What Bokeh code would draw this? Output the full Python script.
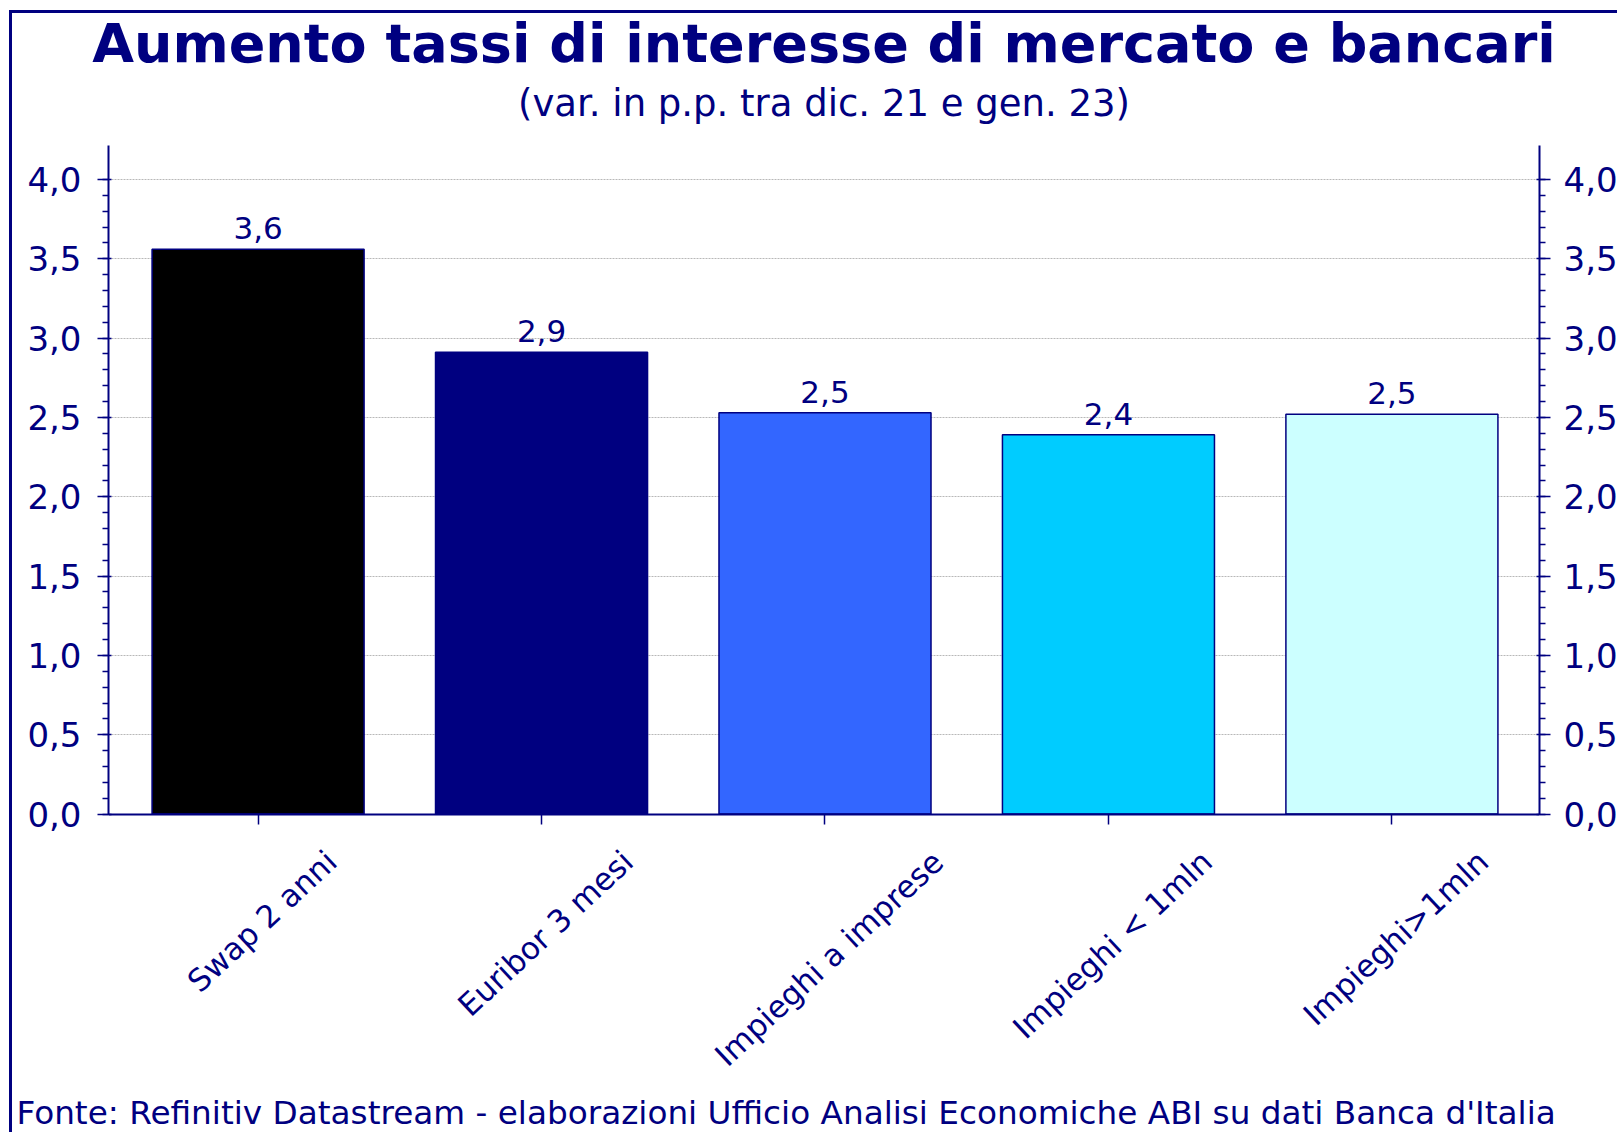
import math
from bokeh.plotting import figure
from bokeh.models import (ColumnDataSource, FixedTicker, LinearAxis, Range1d, Title,
                          CustomJSTickFormatter, Grid)
from bokeh.core.properties import value
from bokeh.embed import file_html
from bokeh.resources import INLINE

# ---------------- data ----------------
categories = ["Swap 2 anni", "Euribor 3 mesi", "Impieghi a imprese", "Impieghi < 1mln", "Impieghi>1mln"]
values = [3.56, 2.91, 2.53, 2.39, 2.52]
bar_colors = ["#000000", "#000080", "#3366FF", "#00CCFF", "#CCFFFF"]
y_ticks = [0.0, 0.5, 1.0, 1.5, 2.0, 2.5, 3.0, 3.5, 4.0]
y_minor_ticks = [k / 10 for k in range(0, 41)]
title_text = "Aumento tassi di interesse di mercato e bancari"
subtitle_text = "(var. in p.p. tra dic. 21 e gen. 23)"
source_text = "Fonte: Refinitiv Datastream - elaborazioni Ufficio Analisi Economiche ABI su dati Banca d'Italia"

# ---------------- style / layout ----------------
NAVY = "#000080"
FONT = "DejaVu Sans"
CX0, CY0 = 12, 13            # page position of the canvas (margin + 3px border)
W, H = 1608, 1122
F_LEFT, F_RIGHT, F_TOP, F_BOTTOM = 108, 1543, 145, 1095   # frame, page px
ZERO_PAGE, FOUR_PAGE = 813.6, 178.9
AXIS_TOP_PAGE = 144.7
CAT0_PAGE, CAT_STEP = 258.0, 284.25

px_y = (ZERO_PAGE - FOUR_PAGE) / 4.0
Y_END = (ZERO_PAGE - F_TOP) / px_y
Y_START = -(F_BOTTOM - ZERO_PAGE) / px_y
AXIS_TOP = (ZERO_PAGE - AXIS_TOP_PAGE) / px_y
X_START = -(CAT0_PAGE - F_LEFT) / CAT_STEP
X_END = (F_RIGHT - CAT0_PAGE) / CAT_STEP
px_x = CAT_STEP


def dy(page_y):
    return (ZERO_PAGE - page_y) / px_y


# approximate DejaVu Sans advance widths (units per em = 2048)
DV = {" ": 651, "<": 1716, ">": 1716, "1": 1303, "2": 1303, "3": 1303,
      "E": 1294, "I": 604, "S": 1300, "a": 1255, "b": 1300, "c": 1126, "d": 1300,
      "e": 1260, "g": 1300, "h": 1298, "i": 569, "l": 569, "m": 1995, "n": 1298,
      "o": 1253, "p": 1300, "r": 842, "s": 1067, "t": 803, "u": 1298, "w": 1675}


def text_w(s, size):
    return sum(DV.get(c, 1200) for c in s) / 2048 * size


XL_SIZE = 31
XL_ANGLE = math.radians(43)


def rot_half_height(s):
    w = text_w(s, XL_SIZE)
    h = 0.95 * XL_SIZE
    return (w * math.sin(XL_ANGLE) + h * math.cos(XL_ANGLE)) / 2


xs = list(range(len(categories)))
src = ColumnDataSource(dict(
    x=xs, top=values, color=bar_colors,
    label_y=[v + 21 / px_y for v in values],
    label=[f"{v:.1f}".replace(".", ",") for v in values],
))

cat_src = ColumnDataSource(dict(
    x=[x + 4 / px_x for x in xs],
    y=[dy(845 + rot_half_height(c)) for c in categories],
    text=categories,
))

p = figure(width=W, height=H, x_range=Range1d(X_START, X_END), y_range=Range1d(Y_START, Y_END),
           output_backend="svg", toolbar_location=None,
           x_axis_location=None, y_axis_location=None,
           min_border_left=F_LEFT - CX0, min_border_right=CX0 + W - F_RIGHT,
           min_border_top=F_TOP - CY0, min_border_bottom=CY0 + H - F_BOTTOM,
           background_fill_color="white", border_fill_color="white",
           styles={"margin": "10px 0 0 9px",
                   "border-left": "3px solid #000080", "border-top": "3px solid #000080"})
p.outline_line_color = None
for g in p.grid:
    g.visible = False

p.add_layout(Grid(dimension=1, ticker=FixedTicker(ticks=y_ticks[1:]), grid_line_color="#B8B8B8",
                  grid_line_dash="2 1", grid_line_width=1))

p.vbar(x="x", top="top", width=0.748, source=src, fill_color="color",
       line_color=NAVY, line_width=1.5)

p.text(x="x", y="label_y", text="label", source=src, text_align="center",
       text_baseline="alphabetic", text_color=NAVY, text_font=value(FONT),
       text_font_size=value("31px"))

p.text(x="x", y="y", text="text", source=cat_src, angle=XL_ANGLE, text_align="center",
       text_baseline="middle", text_color=NAVY, text_font=value(FONT),
       text_font_size=value(f"{XL_SIZE}px"))

fmt = CustomJSTickFormatter(code="return tick.toFixed(1).replace('.', ',');")

for side, standoff in (("left", 16), ("right", 13)):
    ax = LinearAxis(ticker=FixedTicker(ticks=y_ticks, minor_ticks=y_minor_ticks), formatter=fmt,
                    bounds=(0, AXIS_TOP))
    ax.axis_line_color = NAVY
    ax.axis_line_width = 2
    ax.major_tick_line_color = NAVY
    ax.major_tick_line_width = 1.5
    ax.major_tick_out = 11
    ax.major_tick_in = 3
    ax.minor_tick_line_color = NAVY
    ax.minor_tick_line_width = 1.5
    ax.minor_tick_out = 6
    ax.minor_tick_in = 0
    ax.major_label_text_color = NAVY
    ax.major_label_text_font = FONT
    ax.major_label_text_font_size = "34px"
    ax.major_label_standoff = standoff
    p.add_layout(ax, side)

xax = LinearAxis(ticker=FixedTicker(ticks=xs), fixed_location=0)
xax.axis_line_color = NAVY
xax.axis_line_width = 2
xax.major_tick_line_color = NAVY
xax.major_tick_line_width = 1.5
xax.major_tick_out = 10
xax.major_tick_in = 0
xax.minor_tick_line_color = None
xax.major_label_text_color = None
xax.major_label_text_font_size = "1px"
xax.major_label_standoff = 0
p.add_layout(xax, "below")

p.add_layout(Title(text=subtitle_text, align="center", text_color=NAVY, text_font=FONT,
                   text_font_style="normal", text_font_size="37px", standoff=41), "above")
p.add_layout(Title(text=title_text, align="center", text_color=NAVY, text_font=FONT,
                   text_font_style="bold", text_font_size="54px", standoff=-30), "above")
p.add_layout(Title(text=source_text, align="left", offset=16 - F_LEFT, text_color=NAVY,
                   text_font=FONT, text_font_style="normal", text_font_size="32.7px",
                   standoff=-8), "below")

open("out.html", "w").write(file_html(p, INLINE))
